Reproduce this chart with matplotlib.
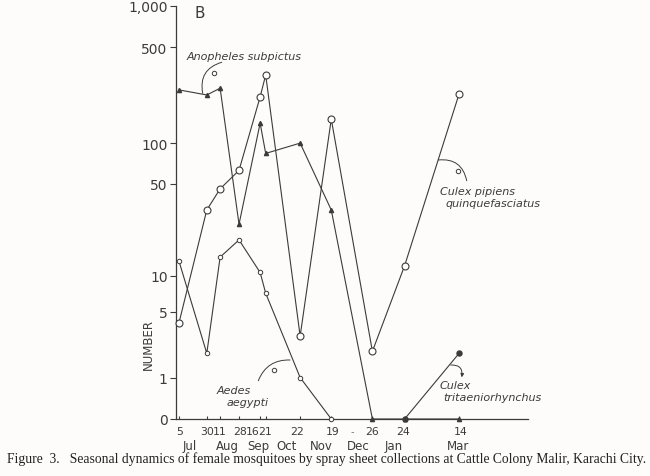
import matplotlib
matplotlib.use("Agg")
import matplotlib.pyplot as plt
import numpy as np
from matplotlib.ticker import FixedLocator

# collection dates, as days after 5 Jul
days = [0, 25, 37, 54, 73, 78, 109, 137, 174, 203, 252]
day_labels = ['5', '30', '11', '28', '16', '21', '22', '19', '26', '24', '14']
day_label_pos = [0.5, 25, 36.5, 54.5, 66, 77.5, 106, 138, 174, 202, 253]
months = ['Jul', 'Aug', 'Sep', 'Oct', 'Nov', 'Dec', 'Jan', 'Mar']
month_pos = [10, 44, 71, 97, 128, 161, 193, 251]

anopheles = [245, 225, 252, 25, 140, 84, 100, 32, 0, 0, 0]
culex_pq = [4, 32, 46, 63, 218, 315, 3, 150, 2.1, 12, 229]
aedes = [13, 2, 14, 19, 10.6, 7.2, 1, 0]
culex_tri_days = [203, 252]
culex_tri = [0, 2]

y_ticks = [0, 1, 5, 10, 50, 100, 500, 1000]
y_labels = ['0', '1', '5', '10', '50', '100', '500', '1,000']

W, H = 650, 477
ink = '#3b3b3b'
sans = ['Liberation Sans Narrow', 'DejaVu Sans']


def fwd(v):
    return np.log10(np.maximum(v, 0) + 1)


def inv(v):
    return 10 ** v - 1


def px(x, y):
    # image pixel (top-left origin) -> figure pixels
    return (x, H - y)


fig = plt.figure(figsize=(6.5, 4.77), dpi=100, facecolor='#fdfcfa')
ax = fig.add_axes([176 / W, 1 - 420 / H, (528 - 176) / W, (420 - 7) / H])
ax.set_facecolor('none')
ax.set_yscale('function', functions=(fwd, inv))
ax.set_ylim(0, 1000)
ax.set_xlim(-2.7, 314)

ax.plot(days, anopheles, color=ink, lw=0.8, marker='^', ms=3,
        mfc=ink, mec=ink, clip_on=False, zorder=3)
ax.plot(days, culex_pq, color=ink, lw=0.8, marker='o', ms=5,
        mfc='white', mec=ink, mew=0.8, clip_on=False, zorder=4)
ax.plot(days[:len(aedes)], aedes, color=ink, lw=0.8, marker='o', ms=3.2,
        mfc='white', mec=ink, mew=0.7, clip_on=False, zorder=4)
ax.plot(culex_tri_days, culex_tri, color=ink, lw=0.8, marker='o', ms=3.6,
        mfc=ink, mec=ink, clip_on=False, zorder=5)

for s in ['top', 'right']:
    ax.spines[s].set_visible(False)
for s in ['left', 'bottom']:
    ax.spines[s].set_color(ink)
    ax.spines[s].set_linewidth(0.9)

ax.yaxis.set_major_locator(FixedLocator(y_ticks))
ax.set_yticklabels(y_labels, family=sans, fontsize=10)
ax.yaxis.set_minor_locator(FixedLocator([]))
ax.tick_params(axis='y', direction='out', length=4, width=0.8, color=ink,
               labelcolor=ink, pad=2)

ax.set_xticks(days)
ax.set_xticklabels([])
ax.tick_params(axis='x', direction='in', length=2.5, width=0.8, color=ink)

xt = ax.get_xaxis_transform()
for lbl, p in zip(day_labels, day_label_pos):
    ax.text(p, -0.029, lbl, transform=xt, ha='center', va='center',
            fontsize=7.8, family=sans, color=ink)
for m, p in zip(months, month_pos):
    ax.text(p, -0.063, m, transform=xt, ha='center', va='center',
            fontsize=8.5, family=sans, color=ink)
ax.text(156, -0.029, '-', transform=xt, ha='center', va='center',
        fontsize=7, color='#777777')

fig.text(148 / W, 1 - 345 / H, 'NUMBER', rotation=90, ha='center', va='center',
         fontsize=8.5, family=sans, color=ink)
fig.text(200 / W, 1 - 13 / H, 'B', ha='center', va='center', fontsize=11,
         family=sans, color=ink)

# species labels
lab = dict(ha='left', va='center', fontsize=8, style='italic', family=sans,
           color=ink)
fig.text(187 / W, 1 - 57 / H, 'Anopheles subpictus', **lab)
fig.text(217 / W, 1 - 391 / H, 'Aedes', **lab)
fig.text(227 / W, 1 - 403 / H, 'aegypti', **lab)
fig.text(440 / W, 1 - 192 / H, 'Culex pipiens', **lab)
fig.text(445 / W, 1 - 204 / H, 'quinquefasciatus', **lab)
fig.text(440 / W, 1 - 386 / H, 'Culex', **lab)
fig.text(443 / W, 1 - 398 / H, 'tritaeniorhynchus', **lab)

# curved leaders with little circles
leaders = [
    ((221.7, 63.3), (202.7, 94.3), 0.45, (214.3, 74), '-'),
    ((258.3, 381.7), (290, 361), -0.35, (274, 371), '-'),
    ((438.3, 161), (466.7, 181.7), -0.45, (457.7, 171.7), '-'),
    ((450.7, 366), (461.7, 378.3), -0.6, None, '-|>'),
]
for start, end, rad, circ, style in leaders:
    ax.annotate('', xy=px(*end), xycoords='figure pixels',
                xytext=px(*start), textcoords='figure pixels',
                arrowprops=dict(arrowstyle=style, color=ink, lw=0.7,
                                shrinkA=0, shrinkB=0, mutation_scale=5,
                                connectionstyle='arc3,rad=%s' % rad),
                annotation_clip=False)
    if circ is not None:
        cx, cy = px(*circ)
        fig.add_artist(plt.Line2D([cx / W], [cy / H], marker='o', ms=3.2,
                                  mfc='white', mec=ink, mew=0.7,
                                  transform=fig.transFigure))

fig.text(7 / W, 1 - 459 / H,
         'Figure  3.   Seasonal dynamics of female mosquitoes by spray sheet '
         'collections at Cattle Colony Malir, Karachi City.',
         ha='left', va='center', fontsize=9.8, family='Liberation Serif',
         color='#222222')

fig.savefig('out.png', dpi=100, facecolor=fig.get_facecolor())
